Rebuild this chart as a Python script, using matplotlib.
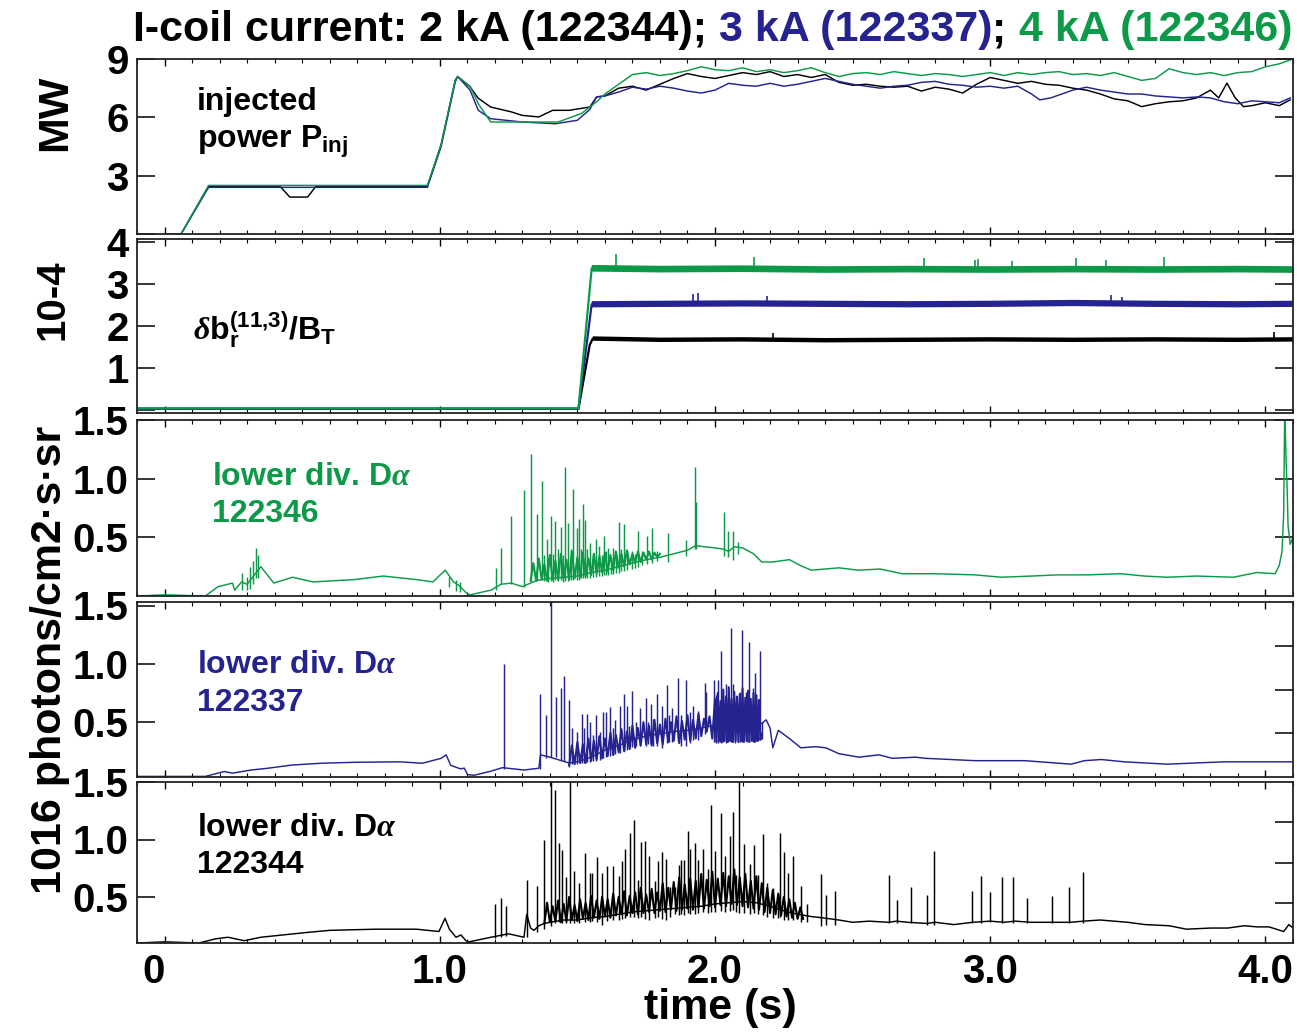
import matplotlib
matplotlib.use('Agg')
import matplotlib.pyplot as plt
from matplotlib.ticker import MultipleLocator
import numpy as np

plt.rcParams['font.family'] = ['Liberation Sans', 'DejaVu Sans']
plt.rcParams['font.weight'] = 'bold'
plt.rcParams['mathtext.fontset'] = 'custom'
plt.rcParams['mathtext.rm'] = 'Liberation Sans:bold'
plt.rcParams['mathtext.it'] = 'Liberation Sans:bold'
plt.rcParams['mathtext.bf'] = 'Liberation Sans:bold'
plt.rcParams['mathtext.sf'] = 'Liberation Serif:italic'
plt.rcParams['mathtext.default'] = 'rm'

BLACK = '#000000'
BLUE = '#25238f'
GREEN = '#0d9a48'

# ---------------- data ----------------
x_ticks = [0, 1, 2, 3, 4]
x_tick_labels = ['0', '1.0', '2.0', '3.0', '4.0']

# Panel 1: injected power (MW)
pinj_k_t = [0.0, 0.06, 0.16, 0.42, 0.455, 0.52, 0.55, 0.955, 1.005, 1.056, 1.065, 1.11, 1.14, 1.185,
            1.26, 1.30, 1.36, 1.41, 1.47, 1.545, 1.57, 1.60, 1.65, 1.70, 1.75, 1.80, 1.85, 1.90,
            1.95, 2.00, 2.05, 2.10, 2.15, 2.20, 2.25, 2.30, 2.35, 2.40, 2.45, 2.50, 2.55, 2.60,
            2.65, 2.70, 2.75, 2.80, 2.85, 2.90, 2.95, 3.00, 3.05, 3.10, 3.15, 3.20, 3.25, 3.30,
            3.35, 3.40, 3.45, 3.50, 3.55, 3.60, 3.65, 3.70, 3.75, 3.80, 3.83, 3.86, 3.89, 3.92,
            3.95, 4.00, 4.05, 4.09]
pinj_k_v = [0, 0, 2.45, 2.45, 1.9, 1.9, 2.45, 2.45, 4.6, 7.9, 8.1, 7.57, 6.98, 6.53,
            6.28, 6.1, 6.02, 6.36, 6.36, 6.53, 7.05, 7.1, 7.5, 7.6, 7.4, 7.7, 8.0, 8.25,
            8.1, 8.0, 8.15, 8.3, 8.2, 8.35, 8.1, 8.2, 8.05, 8.2, 7.8, 7.65, 7.7, 7.6,
            7.55, 7.6, 7.35, 7.55, 7.45, 7.25, 7.7, 8.05, 7.9, 7.75, 7.85, 7.7, 7.65, 7.5,
            7.4, 7.2, 6.95, 6.85, 6.55, 6.7, 6.8, 6.85, 7.0, 7.4, 7.0, 7.76, 7.0, 6.55,
            6.6, 6.75, 6.6, 6.9]
pinj_b_t = [0.0, 0.06, 0.16, 0.955, 1.005, 1.056, 1.065, 1.11, 1.14, 1.185, 1.30, 1.42, 1.50, 1.545,
            1.57, 1.60, 1.65, 1.70, 1.75, 1.80, 1.85, 1.90, 1.95, 2.00, 2.05, 2.10, 2.15, 2.20,
            2.25, 2.30, 2.35, 2.40, 2.45, 2.50, 2.55, 2.60, 2.65, 2.70, 2.75, 2.80, 2.85, 2.90,
            2.95, 3.00, 3.05, 3.10, 3.15, 3.18, 3.22, 3.26, 3.30, 3.35, 3.40, 3.45, 3.50, 3.55,
            3.60, 3.65, 3.70, 3.75, 3.80, 3.85, 3.90, 3.95, 4.00, 4.05, 4.09]
pinj_b_v = [0, 0, 2.4, 2.4, 4.5, 7.8, 8.1, 7.4, 6.36, 5.93, 5.76, 5.67, 5.85, 6.4,
            7.05, 7.1, 7.3, 7.55, 7.45, 7.6, 7.5, 7.35, 7.25, 7.4, 7.75, 7.65, 7.6, 7.75,
            7.6, 7.7, 7.85, 8.0, 7.85, 7.7, 7.6, 7.5, 7.6, 7.65, 7.8, 7.85, 7.7, 7.65,
            7.55, 7.6, 7.5, 7.6, 7.2, 6.9, 7.0, 7.2, 7.4, 7.55, 7.4, 7.3, 7.2, 7.2,
            7.1, 7.05, 7.0, 7.05, 7.0, 6.8, 6.7, 6.85, 6.8, 6.75, 7.0]
pinj_g_t = [0.0, 0.06, 0.16, 0.955, 1.005, 1.056, 1.065, 1.11, 1.14, 1.185, 1.43, 1.515, 1.57,
            1.60, 1.65, 1.70, 1.75, 1.80, 1.85, 1.90, 1.95, 2.00, 2.05, 2.10, 2.15, 2.20, 2.25,
            2.30, 2.35, 2.40, 2.45, 2.50, 2.55, 2.60, 2.65, 2.70, 2.75, 2.80, 2.85, 2.90, 2.95,
            3.00, 3.05, 3.10, 3.15, 3.20, 3.25, 3.30, 3.35, 3.40, 3.45, 3.50, 3.55, 3.60, 3.65,
            3.70, 3.75, 3.80, 3.85, 3.90, 3.95, 4.00, 4.05, 4.09]
pinj_g_v = [0, 0, 2.5, 2.5, 4.6, 7.9, 8.1, 7.6, 6.7, 5.76, 5.76, 6.2, 6.8,
            7.2, 7.7, 8.2, 8.3, 8.15, 8.25, 8.4, 8.6, 8.45, 8.4, 8.55, 8.35, 8.45, 8.3,
            8.4, 8.55, 8.3, 8.1, 8.25, 8.3, 8.2, 8.35, 8.25, 8.15, 8.25, 8.2, 8.1, 8.2,
            8.3, 8.15, 8.3, 8.2, 8.3, 8.35, 8.2, 8.25, 8.15, 8.3, 8.1, 7.9, 8.0, 8.5,
            8.3, 8.2, 8.3, 8.15, 8.3, 8.35, 8.6, 8.75, 8.95]

# Panel 2: delta b_r / B_T (1e-4)
db_k_t = [-0.1, 1.504, 1.545, 1.556, 1.8, 2.1, 2.4, 2.7, 3.0, 3.3, 3.6, 3.9, 4.1]
db_k_v = [0.02, 0.02, 1.55, 1.70, 1.67, 1.68, 1.66, 1.67, 1.68, 1.67, 1.68, 1.67, 1.68]
db_b_t = [-0.1, 1.504, 1.552, 1.8, 2.1, 2.4, 2.7, 3.0, 3.3, 3.6, 3.9, 4.1]
db_b_v = [0.02, 0.02, 2.52, 2.53, 2.54, 2.53, 2.52, 2.53, 2.55, 2.53, 2.52, 2.53]
db_g_t = [-0.1, 1.504, 1.552, 1.8, 2.1, 2.4, 2.7, 3.0, 3.3, 3.6, 3.9, 4.1]
db_g_v = [0.03, 0.03, 3.38, 3.36, 3.37, 3.35, 3.36, 3.35, 3.36, 3.35, 3.36, 3.35]
db_g_spk_t = [1.64, 2.14, 2.76, 2.945, 2.955, 3.08, 3.31, 3.42, 3.63]
db_g_spk_hi = [3.71, 3.64, 3.62, 3.58, 3.6, 3.55, 3.62, 3.58, 3.64]
db_b_spk_t = [1.92, 1.94, 2.19, 3.44, 3.48]
db_b_spk_hi = [2.76, 2.78, 2.72, 2.74, 2.7]
db_k_spk_t = [2.21, 4.03]
db_k_spk_hi = [1.83, 1.85]

# Panel 3: lower div. D-alpha, 122346 (green)
da_g_t = [-0.1, 0.0, 0.148, 0.195, 0.247, 0.255, 0.28, 0.30, 0.35, 0.397, 0.465, 0.539, 0.69, 0.795,
          0.915, 0.975, 1.02, 1.05, 1.07, 1.095, 1.11, 1.186, 1.222, 1.26, 1.30, 1.35, 1.40, 1.45,
          1.50, 1.55, 1.60, 1.65, 1.70, 1.75, 1.80, 1.85, 1.90, 1.93, 1.96, 2.0, 2.03, 2.05, 2.07,
          2.10, 2.14, 2.17, 2.21, 2.27, 2.31, 2.35, 2.40, 2.45, 2.52, 2.60, 2.68, 2.80, 2.945, 3.04,
          3.15, 3.245, 3.35, 3.474, 3.56, 3.643, 3.75, 3.884, 3.968, 4.035, 4.05, 4.06, 4.066,
          4.07, 4.075, 4.079, 4.082, 4.09, 4.1]
da_g_v = [0.0, 0.01, 0.0, 0.08, 0.11, 0.05, 0.12, 0.1, 0.25, 0.11, 0.16, 0.12, 0.14, 0.17,
          0.14, 0.12, 0.22, 0.12, 0.09, 0.03, 0.01, 0.05, 0.1, 0.11, 0.08, 0.13, 0.15, 0.16,
          0.17, 0.2, 0.22, 0.25, 0.28, 0.31, 0.33, 0.36, 0.39, 0.43, 0.42, 0.41, 0.40, 0.38, 0.42,
          0.41, 0.36, 0.29, 0.29, 0.31, 0.26, 0.22, 0.23, 0.24, 0.22, 0.23, 0.19, 0.19, 0.18, 0.16,
          0.17, 0.18, 0.18, 0.19, 0.17, 0.16, 0.17, 0.16, 0.2, 0.19, 0.26, 0.38, 0.69,
          1.6, 1.15, 0.9, 0.6, 0.44, 0.5]
da_g_spk_t = [0.281, 0.299, 0.31, 0.321, 0.332, 0.34, 1.035, 1.06, 1.075,
              1.204, 1.222, 1.260, 1.306, 1.333, 1.352, 1.372, 1.38, 1.388, 1.395, 1.403, 1.41, 1.418,
              1.43, 1.441, 1.448, 1.456, 1.465, 1.475, 1.485, 1.497, 1.506, 1.513, 1.519, 1.527,
              1.535, 1.545, 1.556, 1.566, 1.577, 1.588, 1.598, 1.605, 1.613, 1.622, 1.631, 1.642,
              1.652, 1.660, 1.668, 1.68, 1.698, 1.709, 1.719, 1.735, 1.752, 1.77, 1.79, 1.828, 1.896,
              1.927, 1.93, 2.033, 2.047, 2.065, 2.083]
da_g_spk_lo = [0.05, 0.05, 0.06, 0.1, 0.15, 0.15, 0.08, 0.04, 0.03,
               0.05, 0.1, 0.1, 0.08, 0.13, 0.14, 0.15, 0.13, 0.14, 0.12, 0.13, 0.12, 0.14,
               0.13, 0.14, 0.12, 0.13, 0.13, 0.14, 0.14, 0.14, 0.14, 0.15, 0.15, 0.15,
               0.15, 0.15, 0.16, 0.16, 0.17, 0.17, 0.18, 0.18, 0.18, 0.19, 0.19, 0.2,
               0.2, 0.21, 0.21, 0.22, 0.23, 0.24, 0.25, 0.26, 0.27, 0.28, 0.3, 0.29, 0.34,
               0.4, 0.4, 0.34, 0.33, 0.31, 0.36]
da_g_spk_hi = [0.2, 0.16, 0.25, 0.3, 0.41, 0.35, 0.16, 0.14, 0.12,
               0.24, 0.41, 0.68, 0.90, 1.21, 0.70, 0.98, 0.35, 0.49, 0.32, 0.68, 0.36, 0.64,
               0.4, 0.59, 0.35, 1.10, 0.62, 0.40, 0.91, 0.58, 0.66, 0.4, 0.78, 0.65,
               0.40, 0.45, 0.35, 0.49, 0.43, 0.35, 0.51, 0.38, 0.41, 0.33, 0.41, 0.35,
               0.63, 0.40, 0.61, 0.38, 0.38, 0.36, 0.55, 0.38, 0.51, 0.58, 0.38, 0.54, 0.48,
               1.10, 0.8, 0.72, 0.55, 0.55, 0.46]
# dense ELM band (alternating low/high samples)
da_g_zig_t = [1.33, 1.34, 1.35, 1.36, 1.37, 1.38, 1.39, 1.40, 1.41, 1.42, 1.43, 1.44, 1.45, 1.46,
              1.47, 1.48, 1.49, 1.50, 1.51, 1.52, 1.53, 1.54, 1.55, 1.56, 1.57, 1.58, 1.59, 1.60,
              1.61, 1.62, 1.63, 1.64, 1.65, 1.66, 1.67, 1.68, 1.69, 1.70, 1.71, 1.72, 1.73, 1.74,
              1.75, 1.76, 1.77, 1.78, 1.79, 1.80]
da_g_zig_v = [0.13, 0.28, 0.13, 0.32, 0.14, 0.27, 0.13, 0.35, 0.14, 0.30, 0.14, 0.36, 0.15, 0.31,
              0.14, 0.38, 0.15, 0.33, 0.16, 0.37, 0.17, 0.32, 0.18, 0.36, 0.19, 0.34, 0.20, 0.37,
              0.21, 0.35, 0.22, 0.38, 0.24, 0.36, 0.25, 0.39, 0.27, 0.36, 0.28, 0.38, 0.29, 0.37,
              0.31, 0.38, 0.31, 0.37, 0.33, 0.36]

# Panel 4: lower div. D-alpha, 122337 (blue)
da_b_t = [-0.1, 0.148, 0.217, 0.247, 0.315, 0.375, 0.465, 0.57, 0.69, 0.855, 0.937, 1.005, 1.023,
          1.04, 1.075, 1.089, 1.101, 1.125, 1.186, 1.228, 1.306, 1.36, 1.366, 1.40, 1.47, 1.50,
          1.55, 1.60, 1.65, 1.70, 1.75, 1.80, 1.85, 1.90, 1.95, 1.99, 2.03, 2.08, 2.12, 2.17,
          2.186, 2.20, 2.21, 2.23, 2.27, 2.312, 2.366, 2.403, 2.45, 2.523, 2.596, 2.644, 2.729,
          2.765, 2.945, 3.126, 3.294, 3.342, 3.403, 3.487, 3.643, 3.848, 4.1]
da_b_v = [0.035, 0.035, 0.077, 0.063, 0.09, 0.105, 0.133, 0.148, 0.156, 0.16, 0.148, 0.19, 0.22,
          0.13, 0.1, 0.106, 0.05, 0.045, 0.08, 0.11, 0.09, 0.105, 0.22, 0.2, 0.15, 0.16,
          0.2, 0.26, 0.3, 0.35, 0.38, 0.4, 0.42, 0.43, 0.45, 0.47, 0.47, 0.47, 0.46, 0.49,
          0.52, 0.45, 0.28, 0.43, 0.36, 0.28, 0.29, 0.28, 0.23, 0.2, 0.22, 0.19, 0.2,
          0.19, 0.17, 0.17, 0.14, 0.17, 0.18, 0.16, 0.14, 0.16, 0.16]
da_b_spk_t = [1.233, 1.366, 1.385, 1.403, 1.423, 1.439, 1.451, 1.469, 1.481, 1.499, 1.517, 1.525,
              1.535, 1.547, 1.557, 1.569, 1.581, 1.593, 1.605, 1.619, 1.629, 1.638, 1.656, 1.668,
              1.68, 1.689, 1.70, 1.713, 1.728, 1.748, 1.758, 1.766, 1.776, 1.788, 1.806, 1.824,
              1.834, 1.842, 1.864, 1.878, 1.896, 1.909, 1.921, 1.939, 1.963, 1.969,
              1.995, 2.003, 2.011, 2.017, 2.023, 2.029, 2.039, 2.047, 2.057, 2.065, 2.074, 2.083,
              2.092, 2.099, 2.111, 2.117, 2.123, 2.132, 2.138, 2.144, 2.15, 2.156, 2.164, 2.171]
da_b_spk_lo = [0.1, 0.1, 0.19, 0.2, 0.2, 0.18, 0.17, 0.12, 0.14, 0.14, 0.15, 0.15,
               0.16, 0.16, 0.17, 0.17, 0.18, 0.19, 0.2, 0.21, 0.22, 0.23, 0.24, 0.25,
               0.26, 0.28, 0.29, 0.3, 0.3, 0.3, 0.31, 0.31, 0.3, 0.3, 0.28, 0.32,
               0.33, 0.33, 0.34, 0.3, 0.3, 0.32, 0.35, 0.35, 0.4, 0.42,
               0.33, 0.32, 0.32, 0.33, 0.32, 0.33, 0.32, 0.33, 0.33, 0.33, 0.32, 0.33,
               0.33, 0.33, 0.34, 0.33, 0.33, 0.34, 0.33, 0.34, 0.34, 0.34, 0.35, 0.36]
da_b_spk_hi = [1.0, 0.745, 0.56, 1.6, 0.72, 0.79, 0.90, 0.69, 0.45, 0.42, 0.57, 0.45,
               0.57, 0.50, 0.39, 0.56, 0.42, 0.59, 0.59, 0.63, 0.45, 0.52, 0.64, 0.74,
               0.64, 0.47, 0.77, 0.50, 0.62, 0.71, 0.5, 0.66, 0.53, 0.74, 0.64, 0.82,
               0.56, 0.62, 0.88, 0.56, 0.86, 0.59, 0.64, 0.6, 0.84, 0.76,
               0.86, 0.73, 0.86, 0.64, 1.11, 0.67, 0.83, 0.62, 1.31, 0.83, 0.67, 0.64,
               0.76, 1.29, 0.76, 0.62, 1.19, 0.66, 0.79, 0.92, 0.74, 0.7, 1.11, 0.5]
da_b_zig_t = [1.47, 1.48, 1.49, 1.50, 1.51, 1.52, 1.53, 1.54, 1.55, 1.56, 1.57, 1.58, 1.59, 1.60,
              1.61, 1.62, 1.63, 1.64, 1.65, 1.66, 1.67, 1.68, 1.69, 1.70, 1.71, 1.72, 1.73, 1.74,
              1.75, 1.76, 1.77, 1.78, 1.79, 1.80, 1.81, 1.82, 1.83, 1.84, 1.85, 1.86, 1.87, 1.88,
              1.89, 1.90, 1.91, 1.92, 1.93, 1.94, 1.95, 1.96, 1.97, 1.98, 1.99, 2.00, 2.005, 2.01,
              2.015, 2.02, 2.025, 2.03, 2.035, 2.04, 2.045, 2.05, 2.055, 2.06, 2.065, 2.07, 2.075,
              2.08, 2.085, 2.09, 2.095, 2.10, 2.105, 2.11, 2.115, 2.12, 2.125, 2.13, 2.135, 2.14,
              2.145, 2.15, 2.155, 2.16, 2.165, 2.17]
da_b_zig_v = [0.13, 0.30, 0.14, 0.33, 0.15, 0.31, 0.15, 0.36, 0.17, 0.34, 0.18, 0.38, 0.19, 0.36,
              0.21, 0.41, 0.22, 0.39, 0.24, 0.44, 0.25, 0.42, 0.27, 0.47, 0.28, 0.45, 0.30, 0.50,
              0.31, 0.47, 0.30, 0.52, 0.32, 0.48, 0.31, 0.53, 0.33, 0.50, 0.34, 0.55, 0.32, 0.51,
              0.35, 0.56, 0.34, 0.52, 0.36, 0.57, 0.38, 0.53, 0.42, 0.55, 0.36, 0.70, 0.33, 0.75,
              0.34, 0.68, 0.33, 0.78, 0.34, 0.72, 0.33, 0.80, 0.34, 0.70, 0.33, 0.76, 0.34,
              0.72, 0.33, 0.74, 0.34, 0.79, 0.33, 0.71, 0.34, 0.77, 0.33, 0.70, 0.34, 0.75,
              0.33, 0.73, 0.34, 0.69, 0.35, 0.40]

# Panel 5: lower div. D-alpha, 122344 (black)
da_k_t = [-0.1, 0.0, 0.125, 0.185, 0.23, 0.29, 0.35, 0.41, 0.51, 0.6, 0.765, 0.915, 0.997, 1.019,
          1.035, 1.059, 1.077, 1.095, 1.107, 1.186, 1.25, 1.306, 1.316, 1.33, 1.342, 1.36, 1.38,
          1.40, 1.45, 1.50, 1.55, 1.60, 1.65, 1.70, 1.75, 1.80, 1.85, 1.90, 1.95, 2.0, 2.05, 2.10,
          2.15, 2.2, 2.25, 2.3, 2.35, 2.387, 2.45, 2.5, 2.56, 2.63, 2.66, 2.7, 2.77, 2.8, 2.868,
          2.935, 3.0, 3.05, 3.09, 3.15, 3.23, 3.29, 3.34, 3.399, 3.5, 3.563, 3.65, 3.713, 3.8,
          3.863, 3.923, 3.97, 4.013, 4.066, 4.085, 4.1]
da_k_v = [0.1, 0.11, 0.1, 0.136, 0.15, 0.12, 0.15, 0.165, 0.19, 0.21, 0.22, 0.22, 0.2, 0.315,
          0.22, 0.15, 0.17, 0.12, 0.11, 0.15, 0.18, 0.15, 0.35, 0.23, 0.21, 0.25, 0.27,
          0.28, 0.3, 0.3, 0.32, 0.33, 0.35, 0.37, 0.38, 0.39, 0.40, 0.41, 0.42, 0.44, 0.45, 0.46,
          0.45, 0.42, 0.38, 0.35, 0.33, 0.32, 0.30, 0.28, 0.29, 0.28, 0.29, 0.28, 0.27, 0.28, 0.26,
          0.28, 0.29, 0.28, 0.29, 0.28, 0.28, 0.28, 0.29, 0.3, 0.28, 0.26, 0.25, 0.22, 0.23,
          0.23, 0.25, 0.24, 0.24, 0.2, 0.26, 0.23]
da_k_spk_t = [1.2, 1.222, 1.24, 1.316, 1.354, 1.378, 1.403, 1.418, 1.433, 1.445, 1.46, 1.472, 1.489,
              1.507, 1.527, 1.545, 1.553, 1.571, 1.589, 1.607, 1.628, 1.65, 1.662, 1.674, 1.692,
              1.704, 1.722, 1.73, 1.746, 1.76, 1.782, 1.794, 1.809, 1.822, 1.836, 1.854, 1.87,
              1.878, 1.887, 1.903, 1.909, 1.929, 1.939, 1.957, 1.975, 1.987, 2.0, 2.021, 2.036,
              2.053, 2.065, 2.077, 2.089, 2.107, 2.126, 2.14, 2.156, 2.174, 2.188, 2.212, 2.228,
              2.237, 2.252, 2.266, 2.282, 2.312, 2.336, 2.384, 2.405, 2.436, 2.631, 2.66, 2.713,
              2.771, 2.795, 2.935, 2.965, 2.998, 3.043, 3.082, 3.133, 3.226, 3.286, 3.336]
da_k_spk_lo = [0.14, 0.15, 0.16, 0.15, 0.2, 0.22, 0.25, 0.27, 0.28, 0.27, 0.27, 0.27, 0.27,
               0.27, 0.28, 0.28, 0.29, 0.28, 0.26, 0.29, 0.3, 0.3, 0.31, 0.32, 0.33,
               0.33, 0.32, 0.33, 0.31, 0.3, 0.32, 0.33, 0.31, 0.3, 0.33, 0.35, 0.34,
               0.35, 0.34, 0.36, 0.35, 0.35, 0.36, 0.37, 0.36, 0.37, 0.37, 0.38, 0.37,
               0.38, 0.39, 0.37, 0.36, 0.36, 0.35, 0.36, 0.35, 0.34, 0.33, 0.32, 0.32,
               0.33, 0.3, 0.3, 0.3, 0.28, 0.28, 0.25, 0.26, 0.26, 0.27, 0.27, 0.27,
               0.26, 0.26, 0.27, 0.27, 0.28, 0.27, 0.27, 0.27, 0.27, 0.27, 0.27]
da_k_spk_hi = [0.44, 0.49, 0.42, 0.65, 0.60, 1.0, 1.6, 1.43, 0.97, 0.91, 0.67, 1.6, 0.73,
               0.62, 0.88, 0.71, 0.71, 0.85, 0.71, 0.77, 0.77, 0.68, 0.81, 0.92, 1.06,
               1.17, 0.65, 0.98, 0.99, 0.86, 0.64, 0.81, 0.89, 0.83, 0.59, 0.59, 0.78,
               0.82, 0.82, 1.07, 0.92, 0.97, 0.82, 0.92, 0.74, 1.3, 0.9, 1.23, 0.86,
               1.03, 1.24, 0.69, 1.6, 0.96, 0.79, 0.95, 0.69, 1.05, 0.62, 0.58, 0.52,
               1.06, 0.89, 0.71, 0.86, 0.6, 0.44, 0.7, 0.52, 0.55, 0.69, 0.47, 0.59,
               0.52, 0.9, 0.55, 0.68, 0.54, 0.67, 0.67, 0.49, 0.51, 0.59, 0.72]
da_k_zig_t = [1.38, 1.39, 1.40, 1.41, 1.42, 1.43, 1.44, 1.45, 1.46, 1.47, 1.48, 1.49, 1.50, 1.51,
              1.52, 1.53, 1.54, 1.55, 1.56, 1.57, 1.58, 1.59, 1.60, 1.61, 1.62, 1.63, 1.64, 1.65,
              1.66, 1.67, 1.68, 1.69, 1.70, 1.71, 1.72, 1.73, 1.74, 1.75, 1.76, 1.77, 1.78, 1.79,
              1.80, 1.81, 1.82, 1.83, 1.84, 1.85, 1.86, 1.87, 1.88, 1.89, 1.90, 1.91, 1.92, 1.93,
              1.94, 1.95, 1.96, 1.97, 1.98, 1.99, 2.00, 2.01, 2.02, 2.03, 2.04, 2.05, 2.06, 2.07,
              2.08, 2.09, 2.10, 2.11, 2.12, 2.13, 2.14, 2.15, 2.16, 2.17, 2.18, 2.19, 2.20, 2.21,
              2.22, 2.23, 2.24, 2.25, 2.26, 2.27, 2.28, 2.29, 2.30, 2.31, 2.32]
da_k_zig_v = [0.27, 0.45, 0.28, 0.42, 0.29, 0.47, 0.28, 0.44, 0.29, 0.50, 0.30, 0.43, 0.29, 0.48,
              0.31, 0.45, 0.30, 0.51, 0.32, 0.47, 0.31, 0.50, 0.33, 0.48, 0.32, 0.53, 0.34, 0.50,
              0.35, 0.55, 0.34, 0.51, 0.36, 0.54, 0.35, 0.58, 0.36, 0.52, 0.37, 0.57, 0.36, 0.54,
              0.38, 0.62, 0.37, 0.58, 0.39, 0.63, 0.38, 0.67, 0.39, 0.61, 0.40, 0.66, 0.39, 0.64,
              0.41, 0.70, 0.40, 0.65, 0.42, 0.72, 0.41, 0.66, 0.43, 0.71, 0.42, 0.68, 0.44, 0.74,
              0.43, 0.67, 0.42, 0.70, 0.41, 0.64, 0.40, 0.68, 0.39, 0.62, 0.37, 0.58, 0.36, 0.56,
              0.35, 0.53, 0.34, 0.50, 0.33, 0.48, 0.32, 0.45, 0.31, 0.41, 0.31]

# ---------------- figure ----------------
W, H = 1297, 1032
fig = plt.figure(figsize=(W / 100, H / 100), dpi=100)

LEFT, RIGHT = 137, 1293


def make_ax(top, bottom):
    return fig.add_axes([LEFT / W, 1 - bottom / H, (RIGHT - LEFT) / W, (bottom - top) / H])


panels = [(59, 234), (239, 413), (420, 596), (602, 777), (782, 943)]
axes = [make_ax(t, b) for t, b in panels]

TICK_FS = 29
LW = 1.05

for i, ax in enumerate(axes):
    ax.set_xlim(-0.1, 4.1)
    ax.set_xticks(x_ticks)
    ax.xaxis.set_minor_locator(MultipleLocator(0.1))
    ax.tick_params(axis='x', which='major', direction='in', top=True, bottom=True,
                   length=5, width=1.0, labelsize=TICK_FS, pad=7)
    ax.tick_params(axis='x', which='minor', direction='in', top=True, bottom=True,
                   length=3, width=0.8)
    ax.tick_params(axis='y', which='major', direction='in', length=13, width=1.1,
                   labelsize=TICK_FS, pad=6)
    for sp in ax.spines.values():
        sp.set_linewidth(1.3)
        sp.set_color('#222222')
    if i < 4:
        ax.set_xticklabels([])
    else:
        ax.set_xticklabels(x_tick_labels)

# Panel 1
ax = axes[0]
ax.plot(pinj_k_t, pinj_k_v, color=BLACK, lw=LW)
ax.plot(pinj_b_t, pinj_b_v, color=BLUE, lw=LW)
ax.plot(pinj_g_t, pinj_g_v, color=GREEN, lw=LW)
ax.set_ylim(0, 9)
ax.set_yticks([0, 3, 6, 9], ['', '3', '6', '9'])
ax.tick_params(axis='y', right=True)

# Panel 2
ax = axes[1]
for t, v, st, sh, c, w in [(db_k_t, db_k_v, db_k_spk_t, db_k_spk_hi, BLACK, 3.2),
                           (db_b_t, db_b_v, db_b_spk_t, db_b_spk_hi, BLUE, 4.5),
                           (db_g_t, db_g_v, db_g_spk_t, db_g_spk_hi, GREEN, 4.8)]:
    t = np.asarray(t)
    v = np.asarray(v)
    ax.plot(t, v, color=c, lw=1.6)
    m = t >= 1.55
    ax.plot(t[m], v[m], color=c, lw=w, solid_capstyle='butt')
    ax.vlines(st, np.interp(st, t, v), sh, colors=c, lw=1.2)
ax.set_ylim(-0.08, 4.08)
ax.set_yticks([0, 1, 2, 3, 4], ['', '1', '2', '3', '4'])
ax.tick_params(axis='y', right=True)

# Panels 3-5
specs = [(axes[2], da_g_t, da_g_v, da_g_spk_t, da_g_spk_lo, da_g_spk_hi, da_g_zig_t, da_g_zig_v,
          GREEN, (0, 1.5)),
         (axes[3], da_b_t, da_b_v, da_b_spk_t, da_b_spk_lo, da_b_spk_hi, da_b_zig_t, da_b_zig_v,
          BLUE, (0.03, 1.53)),
         (axes[4], da_k_t, da_k_v, da_k_spk_t, da_k_spk_lo, da_k_spk_hi, da_k_zig_t, da_k_zig_v,
          BLACK, (0.1, 1.5))]
for ax, t, v, st, slo, shi, zt, zv, c, yl in specs:
    ax.plot(t, v, color=c, lw=LW)
    ax.plot(zt, zv, color=c, lw=1.5)
    ax.vlines(st, slo, shi, colors=c, lw=LW)
    ax.set_ylim(*yl)
    ax.set_yticks([0.5, 1.0, 1.5], ['0.5', '1.0', '1.5'])

axes[2].tick_params(axis='y', right=True)
for ax in axes[3:]:
    tw = ax.twinx()
    tw.set_ylim(0, 1)
    tw.set_yticks([0.25, 0.5, 0.75])
    tw.tick_params(axis='y', direction='in', length=13, width=1.1, labelright=False)
    for sp in tw.spines.values():
        sp.set_visible(False)

# x tick label "0" shifted left like the original
lbls = axes[4].get_xticklabels()
lbls[0].set_horizontalalignment('right')

# ---------------- texts ----------------
def fx(px):
    return px / W


def fy(py):
    return 1 - py / H


TFS = 31
t1 = fig.text(fx(133), fy(41), 'I-coil current: 2 kA (122344); ', fontsize=TFS,
              fontweight='bold', color=BLACK, va='baseline', ha='left')
t2 = fig.text(0, 0, '3 kA (122337)', fontsize=TFS, fontweight='bold', color=BLUE)
t3 = fig.text(0, 0, '; ', fontsize=TFS, fontweight='bold', color=BLACK)
t4 = fig.text(0, 0, '4 kA (122346)', fontsize=TFS, fontweight='bold', color=GREEN)
fig.canvas.draw()
r = fig.canvas.get_renderer()
prev = t1
for t in (t2, t3, t4):
    bb = prev.get_window_extent(r)
    t.set_position((bb.x1 / fig.bbox.width, fy(41)))
    t.set_va('baseline')
    t.set_ha('left')
    prev = t

fig.text(fx(55), fy(113), 'MW', rotation=90, fontsize=31, fontweight='bold',
         ha='center', va='center')
fig.text(fx(53), fy(300), '10-4', rotation=90, fontsize=29, fontweight='bold',
         ha='center', va='center')
fig.text(fx(50), fy(660), '1016 photons/cm2\u00b7s\u00b7sr', rotation=90, fontsize=31,
         fontweight='bold', ha='center', va='center')
fig.text(fx(720), fy(1008), 'time (s)', fontsize=31, fontweight='bold',
         ha='center', va='center')

LFS = 23
fig.text(fx(197), fy(110), 'injected', fontsize=LFS, fontweight='bold', va='baseline')
fig.text(fx(197), fy(148), r'power P$_{\mathrm{inj}}$', fontsize=LFS, fontweight='bold',
         va='baseline')
fig.text(fx(193), fy(340), r'$\mathsf{\delta}$b$_{\mathrm{r}}^{(11{,}3)}$/B$_{\mathrm{T}}$',
         fontsize=LFS, fontweight='bold', va='baseline')
fig.text(fx(212), fy(485), r'lower div. D$\mathsf{\alpha}$', fontsize=LFS,
         fontweight='bold', va='baseline', color=GREEN)
fig.text(fx(212), fy(522), '122346', fontsize=LFS, fontweight='bold', va='baseline',
         color=GREEN)
fig.text(fx(197), fy(673), r'lower div. D$\mathsf{\alpha}$', fontsize=LFS,
         fontweight='bold', va='baseline', color=BLUE)
fig.text(fx(197), fy(711), '122337', fontsize=LFS, fontweight='bold', va='baseline',
         color=BLUE)
fig.text(fx(197), fy(836), r'lower div. D$\mathsf{\alpha}$', fontsize=LFS,
         fontweight='bold', va='baseline', color=BLACK)
fig.text(fx(197), fy(873), '122344', fontsize=LFS, fontweight='bold', va='baseline',
         color=BLACK)

fig.savefig('out.png', dpi=100)
